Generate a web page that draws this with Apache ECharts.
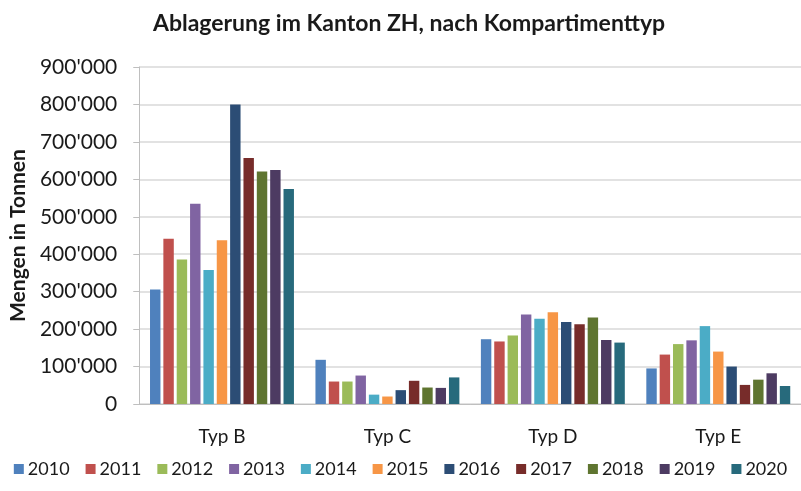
<!DOCTYPE html>
<html><head><meta charset="utf-8">
<script src="https://cdn.jsdelivr.net/npm/echarts@6/dist/echarts.min.js"></script>
<style>html,body{margin:0;padding:0;background:#fff}#c{width:801px;height:491px}</style>
</head><body><div id="c"></div>
<script>
const categories = ['Typ B', 'Typ C', 'Typ D', 'Typ E'];
const years = ['2010','2011','2012','2013','2014','2015','2016','2017','2018','2019','2020'];
const v2010 = [306000, 118000, 173000, 95000];
const v2011 = [441000, 60000, 167000, 132000];
const v2012 = [386000, 60000, 183000, 160000];
const v2013 = [535000, 76000, 239000, 170000];
const v2014 = [358000, 25000, 228000, 208000];
const v2015 = [437000, 20000, 245000, 140000];
const v2016 = [800000, 37000, 219000, 100000];
const v2017 = [657000, 62000, 213000, 51000];
const v2018 = [621000, 44000, 231000, 65000];
const v2019 = [625000, 43000, 171000, 82000];
const v2020 = [574000, 71000, 164000, 48000];
const seriesValues = [v2010, v2011, v2012, v2013, v2014, v2015, v2016, v2017, v2018, v2019, v2020];
const colors = ['#4F81BD','#C0504D','#9BBB59','#8064A2','#4BACC6','#F79646','#2C4D75','#772C2A','#5F7530','#4D3B62','#276A7C'];
const font = 'Lato, "Open Sans", sans-serif';
const fmt = v => v === 0 ? '0' : String(v).replace(/\B(?=(\d{3})+(?!\d))/g, "'");

const chart = echarts.init(document.getElementById('c'), null, {renderer: 'canvas'});
chart.setOption({
  animation: false,
  color: colors,
  title: {
    text: 'Ablagerung im Kanton ZH, nach Kompartimenttyp',
    left: 404, top: 7, textAlign: 'center',
    textStyle: {fontFamily: font, fontSize: 23, fontWeight: 'bold', color: '#1a1a1a'}
  },
  legend: {
    bottom: 8, left: 'center',
    itemWidth: 10, itemHeight: 10, itemGap: 16,
    icon: 'rect',
    textStyle: {fontFamily: font, fontSize: 18, color: '#1a1a1a', padding: [0,0,0,-1]},
    data: years
  },
  grid: {left: 139, right: 0, top: 67, bottom: 87, containLabel: false},
  xAxis: {
    type: 'category', data: categories,
    axisLine: {lineStyle: {color: '#bfbfbf'}},
    axisTick: {show: false},
    axisLabel: {fontFamily: font, fontSize: 19, color: '#1a1a1a', margin: 23}
  },
  yAxis: {
    type: 'value', min: 0, max: 900000, interval: 100000,
    name: 'Mengen in Tonnen', nameLocation: 'middle', nameGap: 108,
    nameTextStyle: {fontFamily: font, fontSize: 21, fontWeight: 'bold', color: '#1a1a1a'},
    axisLine: {show: true, lineStyle: {color: '#bfbfbf'}},
    axisTick: {show: true, length: 6, lineStyle: {color: '#bfbfbf'}},
    splitLine: {lineStyle: {color: '#d9d9d9', width: 1.5}},
    axisLabel: {fontFamily: font, fontSize: 21, color: '#1a1a1a', margin: 22, formatter: fmt}
  },
  series: years.map((y, i) => ({
    name: y, type: 'bar', data: seriesValues[i],
    barGap: '28%', barCategoryGap: '13%'
  }))
});
</script></body></html>
